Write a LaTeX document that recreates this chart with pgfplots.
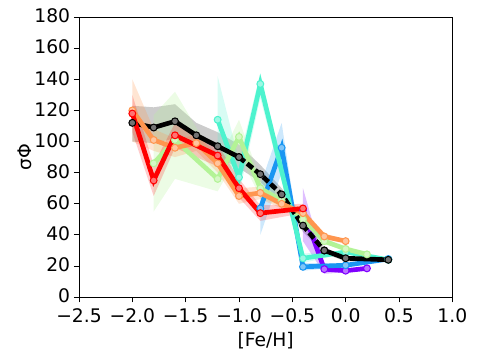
\documentclass[border=0pt]{standalone}
\usepackage{fontspec}
\setmainfont{DejaVu Sans}
\usepackage{pgfplots}
\pgfplotsset{compat=1.18}

\definecolor{cpurple}{RGB}{128,0,255}
\definecolor{cblue}{RGB}{26,150,242}
\definecolor{ccyan}{RGB}{77,243,206}
\definecolor{cgreen}{RGB}{179,243,150}
\definecolor{corange}{RGB}{255,150,79}
\definecolor{cred}{RGB}{255,0,0}

\pgfplotsset{
  ser/.style={#1, line width=4.5pt, mark=*, mark size=3.3pt,
    mark options={solid, fill=#1!55!white, line width=1pt}},
}

\begin{document}
\begin{tikzpicture}
\begin{axis}[
  scale only axis,
  width=359pt, height=269.4pt,
  xmin=-2.5, xmax=1.0, ymin=0, ymax=180,
  xtick={-2.5,-2.0,-1.5,-1.0,-0.5,0.0,0.5,1.0},
  xticklabels={−2.5,−2.0,−1.5,−1.0,−0.5,0.0,0.5,1.0},
  ytick={0,20,...,180},
  yticklabels={0,20,40,60,80,100,120,140,160,180},
  tick align=outside, tick pos=left,
  major tick length=5pt,
  tick style={black, line width=0.8pt},
  axis line style={line width=0.8pt},
  ticklabel style={font=\fontsize{18}{20}\selectfont},
  xticklabel style={yshift=-2.5pt},
  yticklabel style={yshift=1pt},
  xlabel={[Fe/H]}, ylabel={σΦ},
  label style={font=\fontsize{18}{20}\selectfont},
  xlabel style={yshift=-2pt},
  ylabel style={yshift=-4pt},
  clip=true,
]
% shaded bands
\addplot[draw=none, fill=black, fill opacity=0.2] coordinates {
(-2,123)(-1.8,122)(-1.6,124)(-1.4,112)(-1.2,106)(-1.0,98)(-0.8,85)(-0.6,70)(-0.4,50)(-0.2,32)(0,26)(0.4,25)
(0.4,23)(0,23)(-0.2,28)(-0.4,42)(-0.6,62)(-0.8,74)(-1.0,83)(-1.2,90)(-1.4,96)(-1.6,102)(-1.8,99)(-2,100)} --cycle;
\addplot[draw=none, fill=cpurple, fill opacity=0.25] coordinates {
(-0.4,70)(-0.2,22)(0,18)(0.2,19.5)(0.2,17.5)(0,16)(-0.2,15)(-0.4,36)} --cycle;
\addplot[draw=none, fill=cblue, fill opacity=0.22] coordinates {
(-0.8,72)(-0.6,112)(-0.4,22)(0,21.5)(0.4,25.5)(0.4,23.5)(0,19.5)(-0.4,17)(-0.6,80)(-0.8,40)} --cycle;
\addplot[draw=none, fill=ccyan, fill opacity=0.22] coordinates {
(-1.2,142)(-1.0,88)(-0.8,144)(-0.4,28)(0,30)(0.4,25)(0.4,23)(0,28)(-0.4,22)(-0.8,128)(-1.0,66)(-1.2,90)} --cycle;
\addplot[draw=none, fill=cgreen, fill opacity=0.25] coordinates {
(-1.8,117)(-1.6,132)(-1.2,86)(-1.0,114)(-0.8,76)(-0.6,66)(-0.4,53)(-0.2,38)(0,32)(0.2,28.5)
(0.2,26.5)(0,30)(-0.2,34)(-0.4,47)(-0.6,58)(-0.8,64)(-1.0,92)(-1.2,68)(-1.6,76)(-1.8,55)} --cycle;
\addplot[draw=none, fill=corange, fill opacity=0.25] coordinates {
(-2,140)(-1.8,108)(-1.6,102)(-1.4,104)(-1.2,92)(-1.0,70)(-0.8,71)(-0.6,63)(-0.4,57)(-0.2,41)(0,37)
(0,35)(-0.2,37)(-0.4,51)(-0.6,57)(-0.8,63)(-1.0,60)(-1.2,80)(-1.4,94)(-1.6,90)(-1.8,94)(-2,100)} --cycle;
\addplot[draw=none, fill=cred, fill opacity=0.2] coordinates {
(-2,130)(-1.8,85)(-1.6,112)(-1.2,98)(-1.0,76)(-0.8,59)(-0.4,60)
(-0.4,54)(-0.8,49)(-1.0,64)(-1.2,84)(-1.6,96)(-1.8,65)(-2,106)} --cycle;
% lines
\addplot[ser=cpurple] coordinates {
(-0.4,56)(-0.2,18)(0,17)(0.2,18.5)};
\addplot[ser=cblue] coordinates {
(-0.8,57)(-0.6,96)(-0.4,19.5)(0,20.5)(0.4,24.5)};
\addplot[ser=ccyan] coordinates {
(-1.2,114)(-1.0,77)(-0.8,137)(-0.4,25)(0,29)(0.4,24)};
\addplot[ser=cgreen] coordinates {
(-1.8,86)(-1.6,101)(-1.2,76)(-1.0,103)(-0.8,70)(-0.6,62)(-0.4,50)(-0.2,36)(0,31)(0.2,27.5)};
\addplot[ser=black] coordinates {
(-2,112)(-1.8,109)(-1.6,113)(-1.4,104)(-1.2,97)(-1.0,90)};
\addplot[ser=black, dash pattern=on 7pt off 3pt] coordinates {
(-1.0,90)(-0.8,79)(-0.6,66)(-0.4,46)(-0.2,30)};
\addplot[ser=black] coordinates {
(-0.2,30)(0,25)(0.4,24)};
\addplot[ser=corange] coordinates {
(-2,120)(-1.8,101)(-1.6,96)(-1.4,99)(-1.2,86)(-1.0,65)(-0.8,67)(-0.6,60)(-0.4,54)(-0.2,39)(0,36)};
\addplot[ser=cred] coordinates {
(-2,118)(-1.8,75)(-1.6,104)(-1.2,91)(-1.0,70)(-0.8,54)(-0.4,57)};
\end{axis}
\path ([shift={(-76pt,-59.6pt)}]current axis.south west) rectangle ([shift={(25.7pt,16.4pt)}]current axis.north east);
\end{tikzpicture}
\end{document}
